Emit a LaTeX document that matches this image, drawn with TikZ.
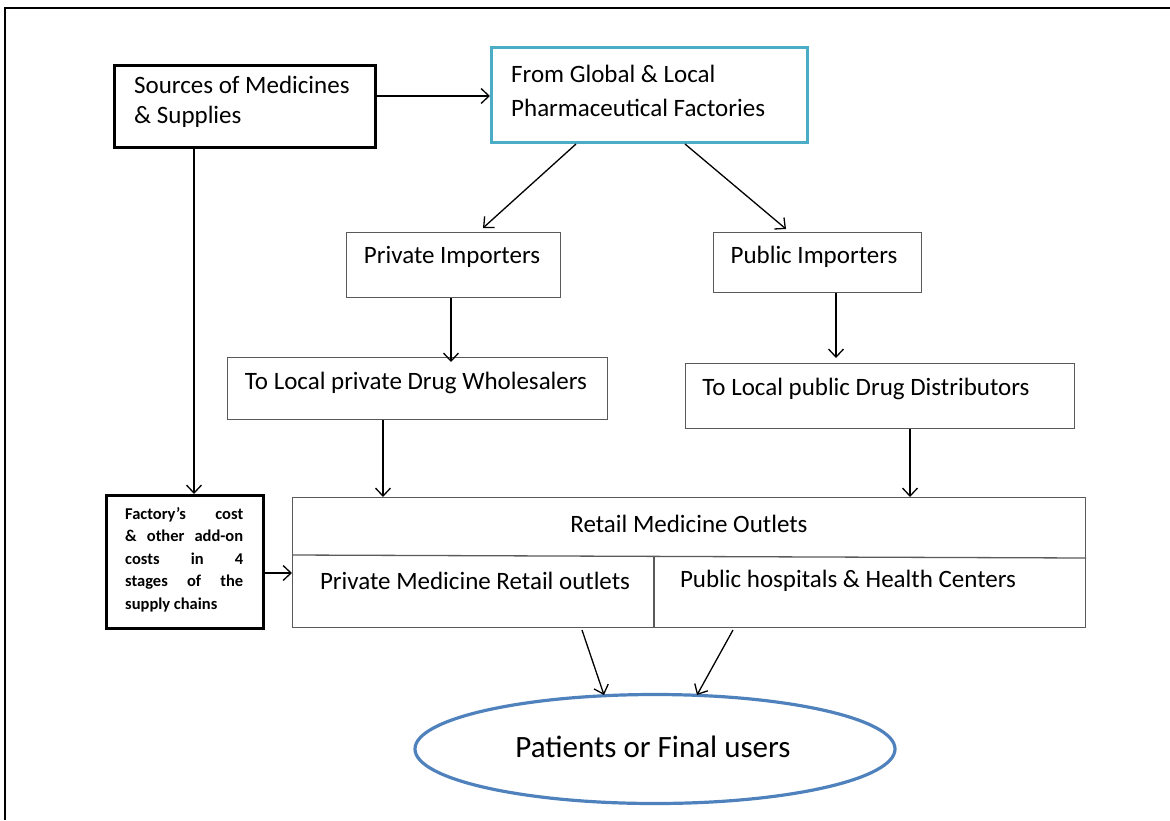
\documentclass[tikz,border=0pt]{standalone}
\usepackage{fontspec}
\setmainfont{Carlito}
\usetikzlibrary{arrows.meta,shapes.geometric}
\definecolor{boxgray}{HTML}{5A5A5A}
\definecolor{tealc}{HTML}{4BACC6}
\definecolor{ellblue}{HTML}{4F81BD}
\tikzset{
  box/.style={draw=boxgray, line width=1.2pt, inner sep=0pt, anchor=north west},
  thickbox/.style={draw=black, line width=3.2pt, inner sep=0pt, anchor=north west},
  txt/.style={inner sep=0pt, font=\fontsize{25}{30}\selectfont},
  arr/.style={line width=1.3pt, -{Straight Barb[length=8pt,width=15pt,line width=1.3pt]}},
}
\begin{document}
\begin{tikzpicture}[x=1pt,y=-1pt]
\useasboundingbox (0,0) rectangle (1170,820);
% outer frame
\draw[line width=2pt] (5,820) -- (5,8) -- (1172,8);

% sources
\node[thickbox, minimum width=261, minimum height=82] (src) at (113,64) {};
\node[txt, anchor=west, align=left, font=\fontsize{25}{30}\selectfont] (srct) at (134,102) {Sources of Medicines\\\& Supplies};

% factories
\node[draw=tealc, line width=3pt, inner sep=0pt, anchor=north west, minimum width=316, minimum height=95] (fac) at (490,46) {};
\node[txt, anchor=west, align=left, font=\fontsize{25}{34}\selectfont] (fact) at (511,91) {From Global \& Local\\Pharmaceutical Factories};

% importers
\node[box, minimum width=214, minimum height=65] (pi) at (346,232) {};
\node[txt] (pit) at (452,257) {Private Importers};
\node[box, minimum width=208, minimum height=60] (pu) at (713,232) {};
\node[txt] (put) at (814,257) {Public Importers};

% wholesalers / distributors
\node[box, minimum width=380, minimum height=62] (pw) at (227,357) {};
\node[txt] (pwt) at (416,383) {To Local private Drug Wholesalers};
\node[box, minimum width=389, minimum height=65] (pd) at (685,363) {};
\node[txt] (pdt) at (866,389) {To Local public Drug Distributors};

% retail
\node[box, minimum width=793, minimum height=130] (ret) at (292,497) {};
\draw[boxgray, line width=1.3pt] (ret.west |- 0,555) -- (ret.east |- 0,558);
\draw[boxgray, line width=1.2pt] (654,557) -- (ret.south -| 654,0);
\node[txt] (rett) at (689,524) {Retail Medicine Outlets};
\node[txt] (rpt) at (475,581) {Private Medicine Retail outlets};
\node[txt] (rut) at (848,581) {Public hospitals \& Health Centers};

% factory cost box
\node[thickbox, minimum width=157, minimum height=133] (fc) at (105,494) {};
\node[inner sep=0pt, anchor=north west, text width=118pt, align=justify,
  font=\bfseries\fontsize{16.5}{22.5}\selectfont] (fct) at (125,507)
  {Factory’s cost\linebreak \& other add-on\linebreak costs in 4\linebreak stages of the\linebreak supply chains};

% patients
\node[draw=ellblue, line width=3.2pt, ellipse, minimum width=480, minimum height=109, inner sep=0pt] (pat) at (655,749) {};
\node[txt, font=\fontsize{31}{34}\selectfont] (patt) at (653,747) {Patients or Final users};

% arrows
\draw[arr] (src.east |- 0,96) -- (fac.west |- 0,96);
\draw[arr] (src.south -| 194,0) -- (fc.north -| 194,0);
\draw[arr] (fac.south -| 576,0) -- (483,228);
\draw[arr] (fac.south -| 685,0) -- (786,229);
\draw[arr] (pi.south -| 451,0) -- (451,362);
\draw[arr] (pu.south -| 836,0) -- (836,358);
\draw[arr] (pw.south -| 383,0) -- (ret.north -| 383,0);
\draw[arr] (pd.south -| 910,0) -- (ret.north -| 910,0);
\draw[arr] (fc.east |- 0,573) -- (ret.west |- 0,573);
\draw[arr] (582,630) -- (604,695);
\draw[arr] (733,630) -- (697,695);
\end{tikzpicture}
\end{document}
